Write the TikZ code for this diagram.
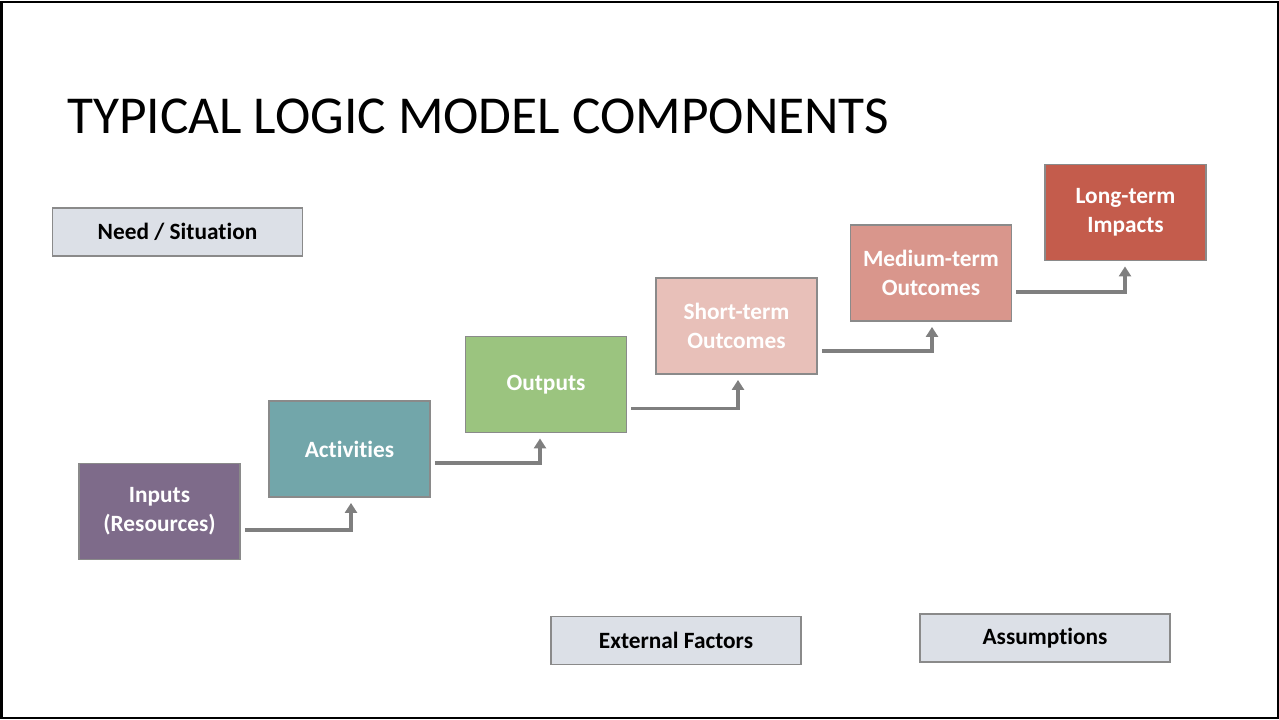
\documentclass[tikz,border=0pt]{standalone}
\usepackage{fontspec}
\setmainfont{Carlito}[Ligatures = NoCommon]
\usepackage{tikz}
\usetikzlibrary{arrows.meta}
\definecolor{boxline}{HTML}{8A8A8A}
\definecolor{arrowgray}{HTML}{7F7F7F}
\definecolor{notefill}{HTML}{DCE0E7}
\definecolor{inputcol}{HTML}{7E6B8A}
\definecolor{activcol}{HTML}{72A6AA}
\definecolor{outputcol}{HTML}{9BC47F}
\definecolor{shortcol}{HTML}{E8C0B9}
\definecolor{mediumcol}{HTML}{D9968C}
\definecolor{longcol}{HTML}{C45C4C}
\tikzset{
  stage/.style = {rectangle, minimum width = 120.75pt, minimum height = 72pt,
    draw = boxline, line width = 1.4pt, text = white, align = center,
    font = \fontsize{17.5}{21.5}\selectfont\bfseries},
  note/.style = {rectangle, minimum width = 187.5pt, minimum height = 36pt,
    draw = boxline, line width = 1.4pt, fill = notefill, text = black,
    font = \fontsize{17.5}{21.5}\selectfont\bfseries},
  flow/.style = {draw = arrowgray, line width = 2.6pt,
    -{Triangle[width = 9pt, length = 7.5pt]}}
}

\begin{document}
\begin{tikzpicture}[x = 0.75pt, y = -0.75pt]
  \useasboundingbox (0,0) rectangle (1279,719);
  \draw[line width = 1.5pt] (1.5,1.5) rectangle (1277.5,717.5);

  \node (title) [anchor = base west, inner sep = 0pt,
    font = \fontsize{40}{46}\selectfont] at (67,133)
    {TYPICAL LOGIC MODEL COMPONENTS};

  \node (need) [note] at (177.5,232) {Need / Situation};
  \node (external) [note] at (676,640.5) {External Factors};
  \node (assumptions) [note] at (1045,638) {Assumptions};

  \node (inputs) [stage, fill = inputcol] at (159.5,511.5) {Inputs\\(Resources)};
  \node (activities) [stage, fill = activcol] at (349.5,449) {Activities};
  \node (outputs) [stage, fill = outputcol] at (546,384.5) {Outputs};
  \node (short) [stage, fill = shortcol] at (736.5,326) {Short-term\\Outcomes};
  \node (medium) [stage, fill = mediumcol] at (931,273) {Medium-term\\Outcomes};
  \node (long) [stage, fill = longcol] at (1125.5,212.5) {Long-term\\Impacts};

  \draw [flow] ([xshift = 3pt]inputs.east |- 0,530) -| ([shift = {(1.5,5)}]activities.south);
  \draw [flow] ([xshift = 3pt]activities.east |- 0,463) -| ([shift = {(-6,5)}]outputs.south);
  \draw [flow] ([xshift = 3pt]outputs.east |- 0,408.5) -| ([shift = {(1.5,5)}]short.south);
  \draw [flow] ([xshift = 3pt]short.east |- 0,351) -| ([shift = {(1,5)}]medium.south);
  \draw [flow] ([xshift = 3pt]medium.east |- 0,292) -| ([shift = {(-0.5,5)}]long.south);
\end{tikzpicture}
\end{document}
